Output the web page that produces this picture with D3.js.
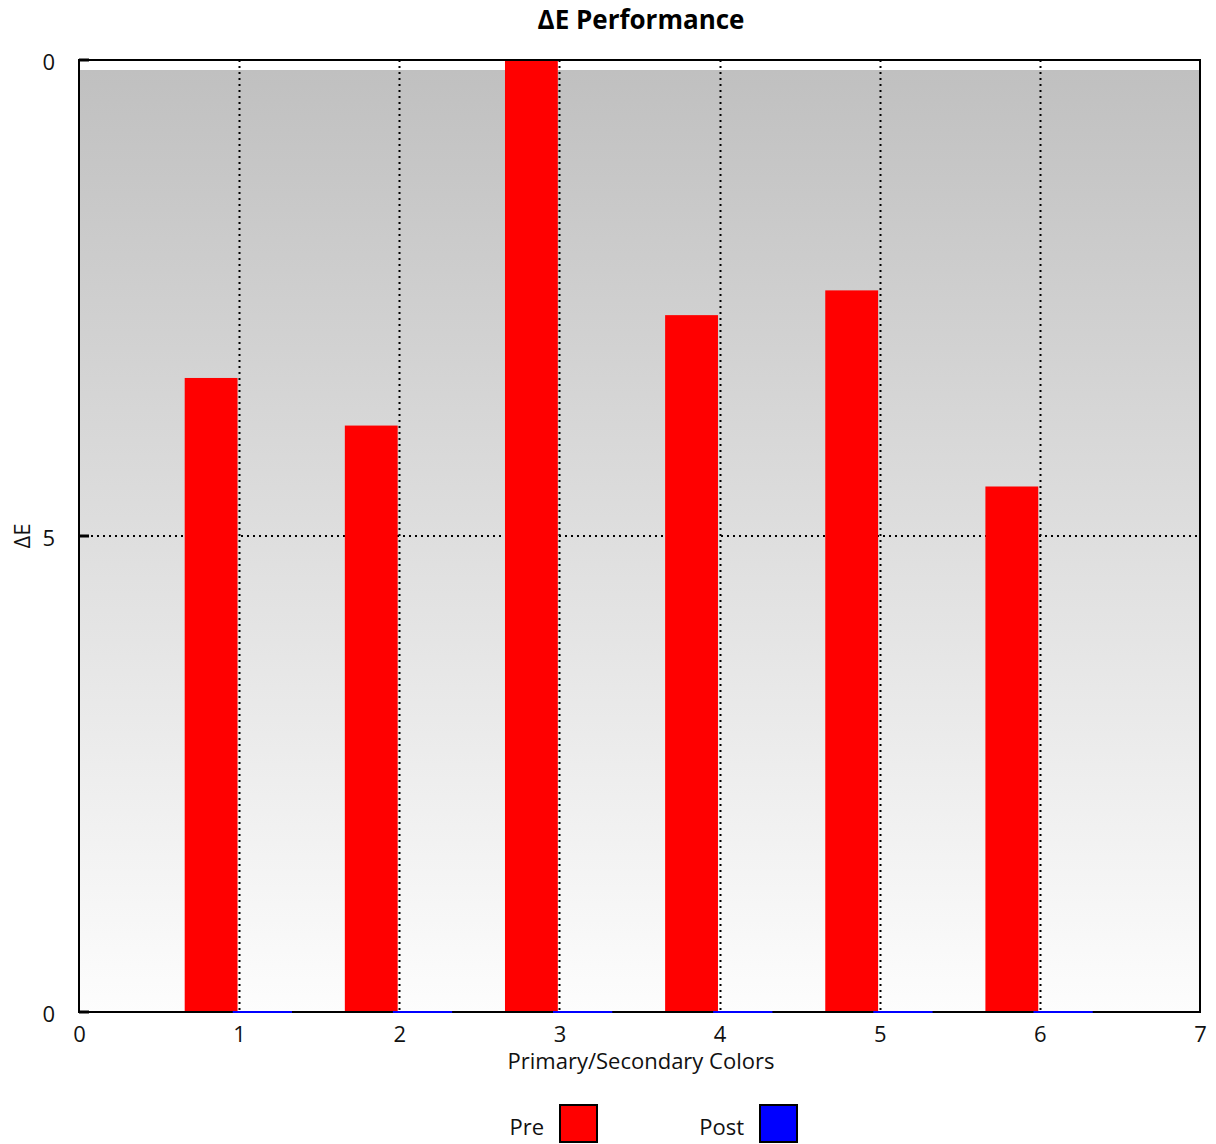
<!DOCTYPE html>
<html>
<head>
<meta charset="utf-8">
<script src="https://cdn.jsdelivr.net/npm/d3@7"></script>
<style>
  html, body { margin: 0; padding: 0; background: #fff; }
  svg { display: block; font-family: "Open Sans", "Noto Sans", sans-serif; }
</style>
</head>
<body>
<script>
// ---- data ----
const categories = [1, 2, 3, 4, 5, 6];
const preValues  = [6.66, 6.16, 10.0, 7.32, 7.58, 5.52];
const postValues = [0, 0, 0, 0, 0, 0];
const seriesNames = ["Pre", "Post"];
const seriesColors = ["#ff0000", "#0000ff"];
const xTicks = [0, 1, 2, 3, 4, 5, 6, 7];
const yTicks = [0, 5, 10];
const yTickLabels = ["0", "5", "0"];
const title = "ΔE Performance";
const xTitle = "Primary/Secondary Colors";
const yTitle = "ΔE";

// ---- layout ----
const W = 1216, H = 1144;
const m = { left: 79, top: 60, right: 16, bottom: 132 };
const iw = W - m.left - m.right, ih = H - m.top - m.bottom;

const svg = d3.select("body").append("svg").attr("width", W).attr("height", H);

const x = d3.scaleLinear().domain([0, 7]).range([m.left, m.left + iw]);
const y = d3.scaleLinear().domain([0, 10]).range([m.top + ih, m.top]);

// gradient background
const defs = svg.append("defs");
const grad = defs.append("linearGradient").attr("id", "bg").attr("x1", 0).attr("y1", 0).attr("x2", 0).attr("y2", 1);
grad.append("stop").attr("offset", "0%").attr("stop-color", "#c0c0c0");
grad.append("stop").attr("offset", "100%").attr("stop-color", "#fdfdfd");

svg.append("rect").attr("x", m.left).attr("y", m.top).attr("width", iw).attr("height", ih).attr("fill", "#fff");
svg.append("rect").attr("x", m.left).attr("y", m.top + 10).attr("width", iw).attr("height", ih - 10).attr("fill", "url(#bg)");

// grid lines
const grid = svg.append("g").attr("stroke", "#000").attr("stroke-width", 2).attr("stroke-dasharray", "2,4");
grid.selectAll("line.v").data(xTicks.slice(1, -1)).join("line")
  .attr("x1", d => Math.round(x(d)) + 0.5).attr("x2", d => Math.round(x(d)) + 0.5)
  .attr("y1", m.top).attr("y2", m.top + ih);
grid.selectAll("line.h").data([5]).join("line")
  .attr("x1", m.left).attr("x2", m.left + iw)
  .attr("y1", d => y(d)).attr("y2", d => y(d));

// Pre bars
const bw = 0.33;
svg.append("g").selectAll("rect").data(categories).join("rect")
  .attr("x", (d) => x(d - bw - 0.01))
  .attr("width", (d) => x(bw) - x(0))
  .attr("y", (d, i) => y(preValues[i]))
  .attr("height", (d, i) => y(0) - y(preValues[i]))
  .attr("fill", seriesColors[0]);

// frame
svg.append("rect").attr("x", m.left).attr("y", m.top).attr("width", iw).attr("height", ih)
  .attr("fill", "none").attr("stroke", "#000").attr("stroke-width", 2);

// Post bars (near zero, drawn over the axis line)
svg.append("g").selectAll("rect").data(categories).join("rect")
  .attr("x", (d) => x(d - 0.04))
  .attr("width", (d) => x(bw + 0.04) - x(0))
  .attr("y", (d, i) => y(postValues[i]) - 1)
  .attr("height", (d, i) => Math.max(2, y(0) - y(postValues[i])))
  .attr("fill", seriesColors[1]);

// axes
const xAxis = d3.axisBottom(x).tickValues(xTicks).tickFormat(d3.format("d")).tickSize(0).tickPadding(14);
const gx = svg.append("g").attr("transform", `translate(0,${m.top + ih})`).call(xAxis);
gx.select(".domain").remove();
gx.selectAll("text").attr("font-size", 22).attr("fill", "#111").attr("font-family", "Open Sans, sans-serif");

const yAxis = d3.axisLeft(y).tickValues(yTicks).tickFormat((d, i) => yTickLabels[i]).tickSize(0).tickPadding(24);
const gy = svg.append("g").attr("transform", `translate(${m.left},2)`).call(yAxis);
gy.select(".domain").remove();
gy.selectAll("text").attr("font-size", 22).attr("fill", "#111").attr("font-family", "Open Sans, sans-serif");

// small tick marks on y axis
svg.append("g").selectAll("line").data(yTicks).join("line")
  .attr("x1", m.left).attr("x2", m.left + 10)
  .attr("y1", d => y(d)).attr("y2", d => y(d))
  .attr("stroke", "#000").attr("stroke-width", 3);

// titles
svg.append("text").attr("x", 641).attr("y", 29).attr("text-anchor", "middle")
  .attr("font-size", 26).attr("font-weight", "bold").attr("fill", "#000").text(title);
svg.append("text").attr("x", 641).attr("y", 1069).attr("text-anchor", "middle")
  .attr("font-size", 22).attr("fill", "#111").text(xTitle);
svg.append("text").attr("transform", `translate(30,${y(5)}) rotate(-90)`).attr("text-anchor", "middle")
  .attr("font-size", 22).attr("fill", "#111").text(yTitle);

// legend
const legendX = [544, 744];
const lg = svg.append("g").selectAll("g").data(seriesNames).join("g")
  .attr("transform", (d, i) => `translate(${legendX[i]},0)`);
lg.append("text").attr("x", 0).attr("y", 1135).attr("text-anchor", "end")
  .attr("font-size", 22).attr("fill", "#111").text(d => d);
lg.append("rect").attr("x", 16).attr("y", 1105).attr("width", 37).attr("height", 37)
  .attr("fill", (d, i) => seriesColors[i]).attr("stroke", "#000").attr("stroke-width", 2);
</script>
</body>
</html>
